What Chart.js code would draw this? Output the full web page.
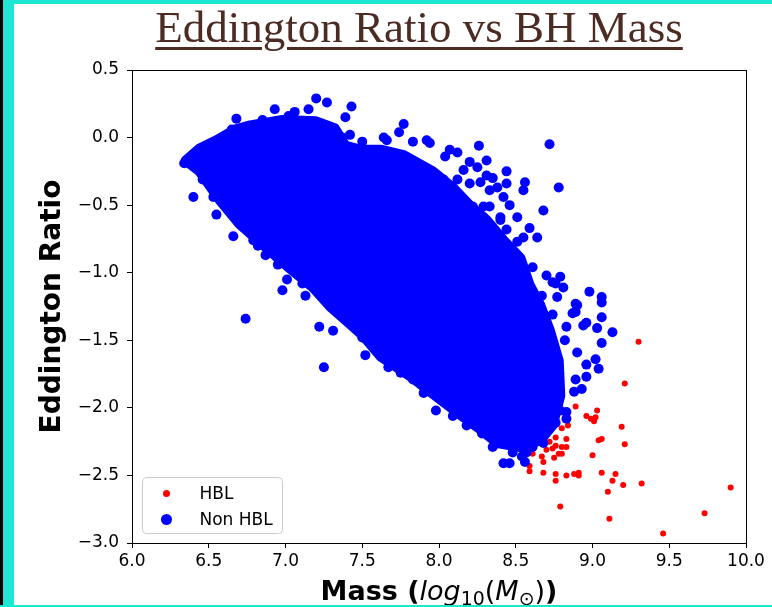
<!DOCTYPE html>
<html>
<head>
<meta charset="utf-8">
<script src="https://cdn.jsdelivr.net/npm/chart.js@4.4.1/dist/chart.umd.min.js"></script>
<style>
	html, body { margin: 0; padding: 0; background: #fff; }
	#frame { position: relative; width: 772px; height: 607px; overflow: hidden; background: #fff; }
	#chart { position: absolute; left: 0; top: 0; }
	.edge { position: absolute; background: #1de7d4; }
	#title {
		position: absolute; left: 0; top: 5px; width: 838px; text-align: center;
		font-family: "Liberation Serif", serif; font-size: 45px; line-height: 45px;
		color: #4b2b22; white-space: nowrap;
		text-decoration: underline; text-decoration-thickness: 3px; text-underline-offset: 5px;
	}
	#xlabel {
		position: absolute; left: 132px; width: 614px; top: 576px; text-align: center;
		font-family: "DejaVu Sans", sans-serif; font-size: 27px; line-height: 30px;
		color: #000; white-space: nowrap;
	}
	#xlabel b { font-weight: bold; }
	#xlabel i { font-style: italic; font-weight: normal; }
	#xlabel .m { font-weight: normal; }
	#xlabel sub { font-size: 0.7em; vertical-align: -0.25em; line-height: 0; }
</style>
</head>
<body>
<div id="frame">
	<canvas id="chart" width="772" height="607"></canvas>
	<div id="title">Eddington Ratio vs BH Mass</div>
	<div id="xlabel"><b>Mass (</b><span class="m"><i>log</i><sub>10</sub>(<i>M</i><sub>⊙</sub>)</span><b>)</b></div>
	<div class="edge" style="left:0;top:0;width:772px;height:4px"></div>
	<div class="edge" style="left:0;top:0;width:14px;height:607px"></div>
	<div style="position:absolute;left:0;top:0;width:3px;height:607px;background:#000"></div>
	<div class="edge" style="left:0;top:605px;width:772px;height:2px"></div>
</div>
<script>
// ticks
const massTicks = [6.0, 6.5, 7.0, 7.5, 8.0, 8.5, 9.0, 9.5, 10.0];
const ratioTicks = [-3.0, -2.5, -2.0, -1.5, -1.0, -0.5, 0.0, 0.5];

// outline of the solid core of the Non HBL cloud (mass, ratio)
const coreMass = [6.35, 6.44, 6.55, 6.67, 6.77, 6.98, 7.20, 7.32, 7.39, 7.49, 7.62, 7.77, 7.96, 8.09, 8.20, 8.31, 8.42, 8.53, 8.59, 8.66, 8.72, 8.78, 8.79, 8.74, 8.66, 8.53, 8.38, 8.27, 8.16, 7.94, 7.83, 7.62, 7.50, 7.39, 7.29, 7.18, 7.03, 6.88, 6.70, 6.57, 6.44, 6.35];
const coreRatio = [-0.17, -0.08, -0.02, 0.06, 0.09, 0.13, 0.12, 0.07, -0.06, -0.09, -0.09, -0.13, -0.25, -0.37, -0.50, -0.61, -0.76, -0.89, -1.09, -1.24, -1.42, -1.65, -1.91, -2.13, -2.24, -2.29, -2.26, -2.16, -2.07, -1.88, -1.78, -1.62, -1.46, -1.35, -1.25, -1.11, -0.97, -0.82, -0.64, -0.46, -0.25, -0.17];

// Non HBL sources around the edge of the cloud
const nonHblMass = [6.34, 6.40, 6.55, 6.66, 6.74, 7.22, 7.31, 6.68, 6.93, 7.20, 7.27, 7.43, 7.39, 7.77, 7.74, 8.26, 8.31, 8.44, 8.56, 8.68, 8.64, 8.72, 7.06, 7.15, 7.02, 6.85, 6.65, 6.44, 6.40, 6.53, 6.79, 6.82, 6.87, 6.98, 7.13, 7.01, 6.95, 7.11, 7.25, 7.52, 7.50, 6.46, 6.43, 6.48,
	7.37, 7.42, 7.50, 7.64, 7.66, 7.83, 7.92, 7.94, 8.07, 8.12, 8.20, 8.25, 8.31, 8.35, 8.44, 8.33, 8.42, 8.46, 8.51, 8.59, 8.51, 8.61, 8.70, 8.57, 8.66, 8.69, 8.16, 8.03, 7.99, 7.90, 7.77, 8.14, 8.22, 8.29, 8.40, 8.29, 8.27, 8.38, 8.44, 8.55, 8.78, 8.55, 8.79, 8.76, 8.81, 8.67, 8.98, 9.06, 9.06, 8.89, 9.06, 9.13, 8.94, 9.03, 8.83, 8.74, 8.87,
	8.90, 8.89, 9.06, 8.96, 8.82, 8.90, 8.96, 9.02, 9.04, 8.96, 8.89, 8.93, 8.88, 8.83, 8.83, 8.79, 8.76, 8.68, 8.61, 8.57, 8.48, 8.54, 8.56, 8.46, 8.42,
	7.67, 7.75, 7.83, 7.90, 7.98, 8.09, 8.18, 8.28, 8.35, 8.74, 8.77,
	8.04, 8.12, 8.20, 8.33, 8.40];
const nonHblRatio = [-0.19, -0.44, -0.57, -0.73, -1.34, -1.40, -1.43, 0.14, 0.21, 0.29, 0.26, 0.23, 0.15, 0.10, 0.04, -0.06, -0.17, -0.25, -0.33, -0.54, -0.74, -0.05, 0.19, 0.21, 0.16, 0.13, 0.06, -0.11, -0.13, -0.44, -0.76, -0.80, -0.87, -1.13, -1.17, -1.05, -0.94, -1.08, -1.70, -1.61, -1.48, -0.31, -0.21, -0.07,
	0.00, 0.02, -0.03, 0.00, -0.02, -0.03, -0.02, -0.04, -0.09, -0.11, -0.18, -0.22, -0.28, -0.30, -0.34, -0.39, -0.44, -0.50, -0.59, -0.67, -0.77, -0.96, -1.02, -1.09, -1.30, -1.39, -0.24, -0.31, -0.28, -0.23, -0.24, -0.44, -0.51, -0.59, -0.59, -0.51, -0.33, -0.37, -0.68, -0.74, -0.37, -0.39, -1.03, -1.08, -1.11, -1.17, -1.14, -1.18, -1.22, -1.23, -1.33, -1.44, -1.39, -1.41, -1.40, -1.31, -1.30,
	-1.24, -1.29, -1.52, -1.37, -1.50, -1.59, -1.68, -1.64, -1.71, -1.77, -1.79, -1.86, -1.88, -2.03, -2.08, -2.02, -2.11, -2.26, -2.29, -2.33, -2.33, -2.36, -2.40, -2.41, -2.41,
	-1.70, -1.74, -1.79, -1.89, -2.02, -2.06, -2.13, -2.19, -2.29, -1.07, -1.18,
	-0.14, -0.31, -0.34, -0.51, -0.61];

// HBL sources
const hblMass = [9.30, 9.21, 8.89, 9.03, 8.96, 8.99, 9.02, 9.01, 9.19, 8.80, 8.84, 8.76, 8.83, 9.04, 9.06, 9.21, 8.76, 8.80, 8.83, 8.70, 8.72, 8.78, 8.80, 8.75, 8.67, 8.61, 9.00, 8.68, 8.59, 8.59, 8.68, 8.76, 8.76, 8.83, 8.88, 8.91, 8.91, 9.06, 9.15, 9.13, 9.20, 9.32, 9.10, 9.90, 8.79, 9.73, 9.11, 9.46, 8.74];
const hblRatio = [-1.51, -1.82, -1.99, -2.02, -2.06, -2.08, -2.07, -2.10, -2.14, -2.15, -2.13, -2.22, -2.23, -2.24, -2.23, -2.27, -2.28, -2.29, -2.29, -2.31, -2.25, -2.34, -2.34, -2.37, -2.36, -2.34, -2.35, -2.40, -2.43, -2.47, -2.48, -2.49, -2.54, -2.50, -2.49, -2.48, -2.50, -2.48, -2.49, -2.54, -2.57, -2.56, -2.62, -2.59, -2.73, -2.78, -2.82, -2.93, -2.30];

const blue = "#0000ff";
const red = "#ff0000";
const fontFamily = "'DejaVu Sans', sans-serif";

const toPoints = (xs, ys) => xs.map((x, i) => ({ x, y: ys[i] }));
const fmt = (v) => Number(v).toFixed(1).replace("-", "\u2212");

// full box round the plot and a matplotlib-like legend in the lower left
const axesFrame = {
	id: "axesFrame",
	afterDraw(chart) {
		const { ctx, chartArea: a } = chart;
		ctx.save();
		ctx.strokeStyle = "#000";
		ctx.lineWidth = 1;
		ctx.strokeRect(Math.round(a.left) + 0.5, Math.round(a.top) + 0.5, Math.round(a.right - a.left), Math.round(a.bottom - a.top));

		const x = a.left + 10.5, y = a.bottom - 65.5, w = 140, h = 56, r = 4;
		ctx.beginPath();
		ctx.moveTo(x + r, y);
		ctx.arcTo(x + w, y, x + w, y + h, r);
		ctx.arcTo(x + w, y + h, x, y + h, r);
		ctx.arcTo(x, y + h, x, y, r);
		ctx.arcTo(x, y, x + w, y, r);
		ctx.closePath();
		ctx.fillStyle = "rgba(255,255,255,0.8)";
		ctx.fill();
		ctx.strokeStyle = "#cccccc";
		ctx.stroke();

		const entries = [
			{ label: chart.data.datasets[2].label, color: red, radius: 3.5 },
			{ label: chart.data.datasets[1].label, color: blue, radius: 5.5 },
		];
		ctx.font = "17px " + fontFamily;
		ctx.textBaseline = "middle";
		ctx.textAlign = "left";
		entries.forEach((e, i) => {
			const cy = y + 16 + i * 26;
			ctx.beginPath();
			ctx.arc(x + 24, cy, e.radius, 0, Math.PI * 2);
			ctx.fillStyle = e.color;
			ctx.fill();
			ctx.fillStyle = "#000";
			ctx.fillText(e.label, x + 57, cy + 1);
		});
		ctx.restore();
	},
};

new Chart(document.getElementById("chart"), {
	type: "scatter",
	data: {
		datasets: [
			{
				label: "Non HBL core",
				type: "line",
				data: toPoints(coreMass, coreRatio),
				borderColor: blue,
				backgroundColor: blue,
				borderWidth: 10,
				borderJoinStyle: "round",
				borderCapStyle: "round",
				pointRadius: 0,
				tension: 0,
				fill: "shape",
			},
			{
				label: "Non HBL",
				data: toPoints(nonHblMass, nonHblRatio),
				backgroundColor: blue,
				borderWidth: 0,
				pointRadius: 5,
			},
			{
				label: "HBL",
				data: toPoints(hblMass, hblRatio),
				backgroundColor: red,
				borderWidth: 0,
				pointRadius: 3,
			},
		],
	},
	options: {
		responsive: false,
		animation: false,
		devicePixelRatio: 1,
		layout: { padding: { top: 70, right: 26, left: 0, bottom: 0 } },
		plugins: {
			legend: { display: false },
			tooltip: { enabled: false },
		},
		scales: {
			x: {
				type: "linear",
				min: 6,
				max: 10,
				afterBuildTicks: (scale) => { scale.ticks = massTicks.map((value) => ({ value })); },
				afterFit: (scale) => { scale.height = 64; },
				grid: { drawOnChartArea: false, color: "#000", tickLength: 5 },
				border: { color: "#000" },
				ticks: {
					color: "#000",
					font: { family: fontFamily, size: 17 },
					padding: 3,
					maxRotation: 0,
					autoSkip: false,
					callback: fmt,
				},
			},
			y: {
				type: "linear",
				min: -3,
				max: 0.5,
				afterBuildTicks: (scale) => { scale.ticks = ratioTicks.map((value) => ({ value })); },
				afterFit: (scale) => { scale.width = 132; },
				grid: { drawOnChartArea: false, color: "#000", tickLength: 5 },
				border: { color: "#000" },
				ticks: {
					color: "#000",
					font: { family: fontFamily, size: 17 },
					padding: 8,
					autoSkip: false,
					callback: fmt,
				},
				title: {
					display: true,
					text: "Eddington Ratio",
					color: "#000",
					font: { family: fontFamily, size: 28, weight: "bold" },
					padding: { top: 36, bottom: 0 },
				},
			},
		},
	},
	plugins: [axesFrame],
});
</script>
</body>
</html>
